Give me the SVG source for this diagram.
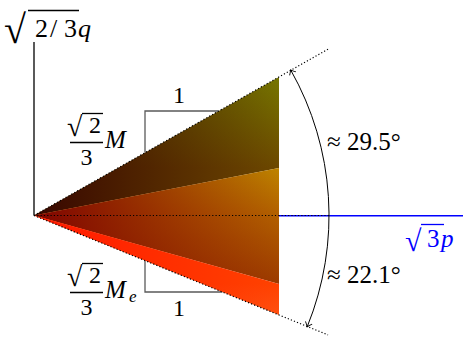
<svg xmlns="http://www.w3.org/2000/svg" width="463" height="341" viewBox="0 0 463 341" font-family="Liberation Serif, serif">
<defs>
<marker id="ah" markerUnits="userSpaceOnUse" markerWidth="12" markerHeight="12" viewBox="-6 -6 12 12" refX="0" refY="0" orient="auto-start-reverse">
<path d="M-4,-3.6 Q-1.2,-1 0.4,0 Q-1.2,1 -4,3.6" stroke="#000" stroke-width="0.9" fill="none"/>
</marker>
<linearGradient id="gTop" gradientUnits="userSpaceOnUse" x1="0" y1="168" x2="0" y2="77">
<stop offset="0" stop-color="#6c4800"/><stop offset="1" stop-color="#767600"/>
</linearGradient>
<linearGradient id="gMid" gradientUnits="userSpaceOnUse" x1="0" y1="284" x2="0" y2="168">
<stop offset="0" stop-color="#9c3a00"/><stop offset="0.6" stop-color="#b26000"/><stop offset="1" stop-color="#be8400"/>
</linearGradient>
<linearGradient id="gBot" gradientUnits="userSpaceOnUse" x1="0" y1="315" x2="0" y2="284">
<stop offset="0" stop-color="#ff5010"/><stop offset="1" stop-color="#ff4200"/>
</linearGradient>
<linearGradient id="oTop" gradientUnits="userSpaceOnUse" x1="34" y1="0" x2="279" y2="0">
<stop offset="0" stop-color="#380600" stop-opacity="1"/><stop offset="1" stop-color="#380600" stop-opacity="0"/>
</linearGradient>
<linearGradient id="oMid" gradientUnits="userSpaceOnUse" x1="34" y1="0" x2="279" y2="0">
<stop offset="0" stop-color="#800400" stop-opacity="1"/><stop offset="1" stop-color="#800400" stop-opacity="0"/>
</linearGradient>
<linearGradient id="oBot" gradientUnits="userSpaceOnUse" x1="34" y1="0" x2="279" y2="0">
<stop offset="0" stop-color="#ff1800" stop-opacity="1"/><stop offset="1" stop-color="#ff1800" stop-opacity="0"/>
</linearGradient>
</defs>
<style>
text{font-family:'Liberation Serif',serif}
.i{font-style:italic}
.ln{stroke:#000;stroke-width:1.3;fill:none}
.br{stroke:#5a5a5a;stroke-width:1.3;fill:none}
.dot{stroke:#000;stroke-width:1.2;fill:none;stroke-dasharray:1.2 2.1}
.arc{stroke:#000;stroke-width:1;fill:none;marker-start:url(#ah);marker-end:url(#ah)}
</style>

<g id="brackets">
<path class="br" d="M145,152.7 V111 H218.7"/>
<path class="br" d="M145,260.6 V292 H222.4"/>
</g>

<g id="fan">
<polygon points="34,215.5 279,76.9 279,168" fill="url(#gTop)"/>
<polygon points="34,215.5 279,76.9 279,168" fill="url(#oTop)"/>
<polygon points="34,215.5 279,168 279,284" fill="url(#gMid)"/>
<polygon points="34,215.5 279,168 279,284" fill="url(#oMid)"/>
<polygon points="34,215.5 279,284 279,315" fill="url(#gBot)"/>
<polygon points="34,215.5 279,284 279,315" fill="url(#oBot)"/>
</g>

<g id="connectors">
<line class="ln" x1="34" y1="215.5" x2="34" y2="42"/>
<line x1="279" y1="215.8" x2="463" y2="215.8" stroke="#0000ff" stroke-width="1.5"/>
<line class="dot" x1="34" y1="215.5" x2="330" y2="215.5"/>
<line class="dot" x1="34" y1="215.5" x2="328" y2="49.2"/>
<line class="dot" x1="34" y1="215.5" x2="328" y2="334.9"/>
<path class="arc" d="M290.8,70.2 A295,295 0 0 1 307.3,326.5"/>
</g>

<g id="label-q">
<text x="4" y="43" font-size="40">√</text>
<line class="ln" x1="28" y1="10.5" x2="79" y2="10.5"/>
<text font-size="26" y="37"><tspan x="35">2</tspan><tspan x="50">/</tspan><tspan x="64">3</tspan><tspan x="78" class="i">q</tspan></text>
</g>

<g id="label-M">
<text x="67" y="136" font-size="28">√</text>
<line class="ln" x1="82" y1="113.5" x2="103" y2="113.5"/>
<text x="89" y="133" font-size="24">2</text>
<line class="ln" x1="70" y1="142.5" x2="103" y2="142.5"/>
<text x="86.5" y="165" font-size="24" text-anchor="middle">3</text>
<text class="i" x="105" y="148" font-size="25">M</text>
</g>

<g id="label-Me">
<text x="67" y="286" font-size="28">√</text>
<line class="ln" x1="82" y1="263.5" x2="103" y2="263.5"/>
<text x="89" y="283" font-size="24">2</text>
<line class="ln" x1="70" y1="292.5" x2="103" y2="292.5"/>
<text x="86.5" y="315" font-size="24" text-anchor="middle">3</text>
<text class="i" x="105" y="298" font-size="25">M</text>
<text class="i" x="129" y="302" font-size="17">e</text>
</g>

<g id="label-1-top"><text x="179" y="103" font-size="24" text-anchor="middle">1</text></g>
<g id="label-1-bot"><text x="179" y="316" font-size="24" text-anchor="middle">1</text></g>

<g id="label-angle-top"><text x="327" y="150" font-size="25">≈ 29.5°</text></g>
<g id="label-angle-bot"><text x="327" y="283" font-size="25">≈ 22.1°</text></g>

<g id="label-p">
<text x="405" y="251" font-size="30" fill="#0000ff">√</text>
<line x1="421" y1="224.5" x2="444" y2="224.5" stroke="#0000ff" stroke-width="1.3"/>
<text font-size="25" y="247" fill="#0000ff"><tspan x="427">3</tspan><tspan x="441" class="i">p</tspan></text>
</g>
</svg>
